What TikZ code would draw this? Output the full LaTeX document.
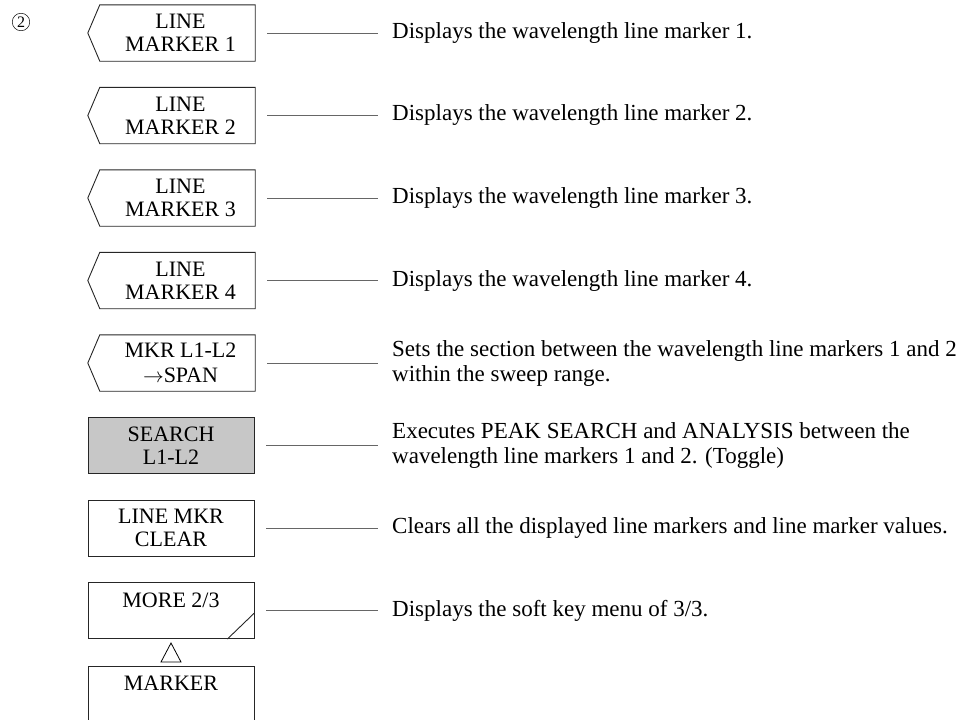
\documentclass[tikz,border=0pt]{standalone}
\usepackage{fontspec}
\setmainfont{Liberation Serif}
\begin{document}
\begin{tikzpicture}[x=1pt,y=-1pt,
  keytext/.style={align=center,font=\fontsize{22}{23}\selectfont,inner sep=0pt},
  arrowkey/.style={minimum width=155pt,minimum height=56pt,inner sep=0pt},
  rectkey/.style={minimum width=166pt,minimum height=56pt,inner sep=0pt},
  keyline/.style={line width=0.9pt,draw=black!85},
  desc/.style={anchor=west,align=left,inner sep=0pt,font=\fontsize{23}{25}\selectfont},
  conn/.style={draw=black!60,line width=0.55pt}]
\useasboundingbox (0,0) rectangle (964,720);
% circled number
\node[circle,draw,line width=0.5pt,inner sep=1.5pt,font=\fontsize{16}{16}\selectfont] (num) at (21,22) {2};
% arrow-shaped keys
\foreach \i/\t/\bs [count=\n] in {0/{LINE\\MARKER 1}/23,1/{LINE\\MARKER 2}/23,2/{LINE\\MARKER 3}/23,3/{LINE\\MARKER 4}/23,4/{MKR L1-L2\\$\rightarrow$SPAN}/24.5}{
  \node[arrowkey] (k\n) at (177.5,{33+82.5*\i}) {};
  \draw[keyline] (k\n.north west) -- (k\n.north east) -- (k\n.south east) -- (k\n.south west) -- ([xshift=-12pt]k\n.west) -- cycle;
  \node[keytext,font=\fontsize{22}{\bs}\selectfont] (t\n) at ([xshift=3pt]k\n.center) {\t};
}
% SEARCH key (shaded)
\node[rectkey,keyline,fill=black!22] (k6) at (171,445.5) {};
\node[keytext] (t6) at (k6.center) {SEARCH\\L1-L2};
% LINE MKR CLEAR
\node[rectkey,keyline] (k7) at (171,528) {};
\node[keytext] (t7) at (k7.center) {LINE MKR\\CLEAR};
% MORE 2/3
\node[rectkey,keyline] (k8) at (171,610.5) {};
\node[keytext,anchor=base] (t8) at (171,607) {MORE 2/3};
\draw[keyline] ([xshift=-27pt]k8.south east) -- ([yshift=26pt]k8.south east);
% triangle
\coordinate (tri) at (171,643);
\draw[line width=0.8pt] (tri) -- (161,662) -- (181,662) -- cycle;
% MARKER box (open at bottom)
\coordinate (mk1) at (88,722);
\coordinate (mk2) at (254,722);
\draw[keyline] (mk1) -- (88,666) -- (254,666) -- (mk2);
\node[keytext,anchor=base] (t9) at (171,690) {MARKER};
% descriptions
\node[desc] (d1) at (392,33) {Displays the wavelength line marker 1.};
\node[desc] (d2) at (392,115.5) {Displays the wavelength line marker 2.};
\node[desc] (d3) at (392,198) {Displays the wavelength line marker 3.};
\node[desc] (d4) at (392,280.5) {Displays the wavelength line marker 4.};
\node[desc] (d5) at (392,363) {Sets the section between the wavelength line markers 1 and 2\\within the sweep range.};
\node[desc] (d6) at (392,445.5) {Executes PEAK SEARCH and ANALYSIS between the\\wavelength line markers 1 and 2. (Toggle)};
\node[desc] (d7) at (392,528) {Clears all the displayed line markers and line marker values.};
\node[desc] (d8) at (392,610.5) {Displays the soft key menu of 3/3.};
% connectors
\foreach \n in {1,...,8}{
  \draw[conn] ([xshift=12pt]k\n.east) -- ([xshift=-14pt]k\n.east -| d\n.west);
}
\end{tikzpicture}
\end{document}
